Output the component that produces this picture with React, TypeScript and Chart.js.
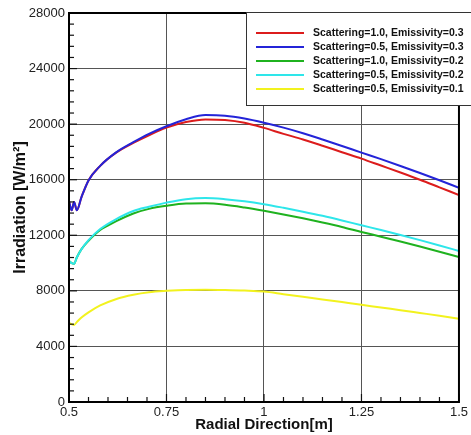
import React, { useEffect, useRef } from "react";
import { Chart, registerables } from "chart.js";

Chart.register(...registerables);

const radial = [0.5, 0.507, 0.513, 0.52, 0.532, 0.55, 0.58, 0.62, 0.665, 0.705, 0.75, 0.8, 0.85, 0.9, 0.95, 1.0, 1.05, 1.1, 1.15, 1.2, 1.25, 1.3, 1.35, 1.4, 1.45, 1.5];

const s10e03 = [14450, 13800, 14400, 13800, 14750, 15950, 17000, 17930, 18650, 19200, 19750, 20150, 20340, 20300, 20100, 19730, 19300, 18900, 18450, 17980, 17520, 17020, 16520, 16000, 15450, 14900];
const s05e03 = [14450, 13800, 14400, 13800, 14750, 15950, 17000, 17950, 18700, 19300, 19850, 20350, 20650, 20600, 20400, 20100, 19750, 19350, 18900, 18430, 17950, 17480, 16990, 16480, 15960, 15420];
const s10e02 = [10150, 10000, 9950, 10400, 11000, 11600, 12380, 13000, 13570, 13900, 14120, 14280, 14300, 14200, 14000, 13760, 13500, 13220, 12920, 12600, 12240, 11900, 11550, 11190, 10820, 10430];
const s05e02 = [10150, 10000, 9950, 10400, 11000, 11650, 12450, 13150, 13750, 14050, 14350, 14600, 14680, 14600, 14450, 14240, 13980, 13700, 13400, 13070, 12720, 12380, 12020, 11650, 11270, 10870];
const s05e01 = [5700, 5600, 5550, 5750, 6080, 6450, 6950, 7400, 7720, 7900, 8000, 8070, 8080, 8060, 8020, 7950, 7760, 7570, 7380, 7190, 7000, 6800, 6610, 6410, 6210, 6000];

const seriesLabels = [
  "Scattering=1.0, Emissivity=0.3",
  "Scattering=0.5, Emissivity=0.3",
  "Scattering=1.0, Emissivity=0.2",
  "Scattering=0.5, Emissivity=0.2",
  "Scattering=0.5, Emissivity=0.1",
];
const seriesColors = ["#dc1c1c", "#2424d8", "#1fb21f", "#2ee6ea", "#f2f21e"];
const seriesValues = [s10e03, s05e03, s10e02, s05e02, s05e01];
const seriesOrder = [2, 1, 4, 3, 5];

const xTicks = [0.5, 0.75, 1, 1.25, 1.5];
const yTicks = [0, 4000, 8000, 12000, 16000, 20000, 24000, 28000];

const FONT = "'Liberation Sans', Arial, sans-serif";

const framePlugin = {
  id: "frame",
  afterDraw(chart: any) {
    const ctx = chart.ctx;
    const { left, right, top, bottom } = chart.chartArea;
    const xs = chart.scales.x;
    const ys = chart.scales.y;
    ctx.save();
    // minor & major ticks
    ctx.strokeStyle = "#111";
    ctx.lineWidth = 1.2;
    for (let i = 0; i <= 20; i++) {
      const v = 0.5 + i * 0.05;
      const px = xs.getPixelForValue(v);
      const len = i % 5 === 0 ? 8 : 5;
      ctx.beginPath();
      ctx.moveTo(px, bottom);
      ctx.lineTo(px, bottom - len);
      ctx.stroke();
    }
    for (let i = 0; i <= 35; i++) {
      const v = i * 800;
      const py = ys.getPixelForValue(v);
      const len = i % 5 === 0 ? 8 : 5;
      ctx.beginPath();
      ctx.moveTo(left, py);
      ctx.lineTo(left + len, py);
      ctx.stroke();
    }
    // frame
    ctx.strokeStyle = "#000";
    ctx.lineWidth = 2;
    ctx.strokeRect(left, top, right - left, bottom - top);

    // legend
    const bx = 246, by = 12, bw = 240, bh = 93;
    ctx.fillStyle = "#fff";
    ctx.fillRect(bx, by, bw, bh);
    ctx.strokeStyle = "#333";
    ctx.lineWidth = 1;
    ctx.strokeRect(bx + 0.5, by + 0.5, bw, bh);
    ctx.font = "bold 10.5px " + FONT;
    ctx.textBaseline = "middle";
    ctx.textAlign = "left";
    chart.data.datasets.forEach((ds: any, i: number) => {
      const y = 33 + i * 14;
      ctx.strokeStyle = ds.borderColor;
      ctx.lineWidth = 2;
      ctx.beginPath();
      ctx.moveTo(256, y);
      ctx.lineTo(304, y);
      ctx.stroke();
      ctx.fillStyle = "#111";
      ctx.fillText(ds.label, 313, y + 0.5);
    });
    ctx.restore();
  },
};

export default function App() {
  const ref = useRef<HTMLCanvasElement | null>(null);
  useEffect(() => {
    document.body.style.margin = "0";
    const canvas = ref.current;
    if (!canvas) return;
    const datasets = seriesValues.map((vals, i) => ({
      label: seriesLabels[i],
      data: radial.map((x, j) => ({ x, y: vals[j] })),
      borderColor: seriesColors[i],
      backgroundColor: seriesColors[i],
      borderWidth: 2,
      pointRadius: 0,
      cubicInterpolationMode: "monotone" as const,
      fill: false,
      order: seriesOrder[i],
    }));
    const chart = new Chart(canvas, {
      type: "line",
      data: { datasets },
      options: {
        animation: false,
        responsive: false,
        layout: { padding: { top: 13, right: 9, left: 0, bottom: 0 } },
        plugins: { legend: { display: false }, tooltip: { enabled: false } },
        scales: {
          x: {
            type: "linear",
            min: 0.5,
            max: 1.5,
            afterBuildTicks: (s: any) => {
              s.ticks = xTicks.map((v) => ({ value: v }));
            },
            afterFit: (s: any) => {
              s.height = 33;
            },
            ticks: {
              callback: (v: any) => String(v),
              font: { family: FONT, size: 13 },
              color: "#222",
              padding: 3,
              maxRotation: 0,
              autoSkip: false,
            },
            grid: { color: "#555", lineWidth: 1, drawTicks: false },
            border: { display: true, color: "#000", width: 2 },
            title: {
              display: true,
              text: "Radial Direction[m]",
              font: { family: FONT, size: 15, weight: "bold" },
              color: "#111",
              padding: { top: 0, bottom: 1 },
            },
          },
          y: {
            type: "linear",
            min: 0,
            max: 28000,
            afterBuildTicks: (s: any) => {
              s.ticks = yTicks.map((v) => ({ value: v }));
            },
            afterFit: (s: any) => {
              s.width = 69;
            },
            ticks: {
              callback: (v: any) => String(v),
              font: { family: FONT, size: 13 },
              color: "#222",
              padding: 4,
              autoSkip: false,
            },
            grid: { color: "#555", lineWidth: 1, drawTicks: false },
            border: { display: true, color: "#000", width: 2 },
            title: {
              display: true,
              text: "Irradiation [W/m²]",
              font: { family: FONT, size: 16, weight: "bold" },
              color: "#111",
              padding: { top: 11, bottom: 0 },
            },
          },
        },
      },
      plugins: [framePlugin],
    });
    return () => chart.destroy();
  }, []);
  return (
    <div style={{ width: 471, height: 435 }}>
      <canvas ref={ref} width={471} height={435} style={{ display: "block" }} />
    </div>
  );
}
